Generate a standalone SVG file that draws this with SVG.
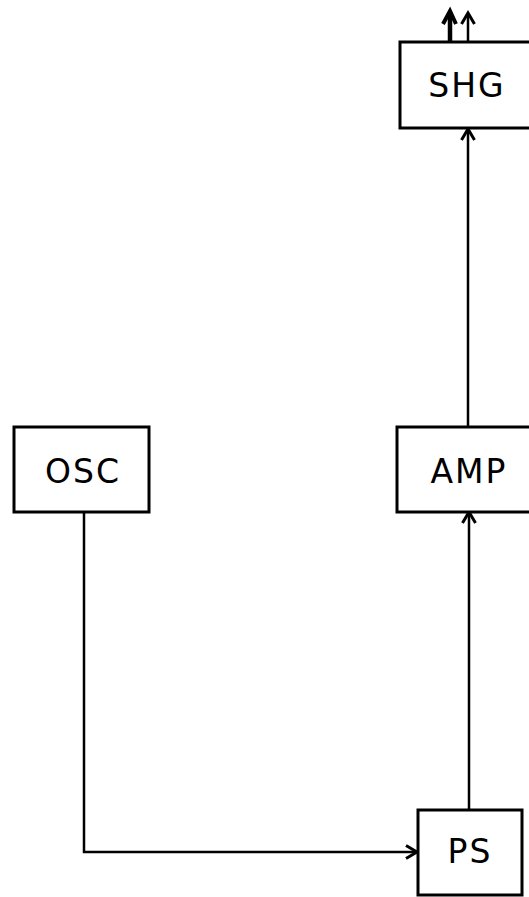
<svg xmlns="http://www.w3.org/2000/svg" width="529" height="897" viewBox="0 0 529 897">
<style>
.box{fill:#fff;stroke:#000;stroke-width:3}
.lbl{font-family:"DejaVu Sans","Liberation Sans",sans-serif;font-size:33px;fill:#000;letter-spacing:2px;text-anchor:middle}
.ln{fill:none;stroke:#000;stroke-width:2.5}
</style>
<defs>
<marker id="ah" markerWidth="16" markerHeight="16" refX="13" refY="8" orient="auto" markerUnits="userSpaceOnUse">
<path d="M2,1.5 L13,8 L2,14.5" fill="none" stroke="#000" stroke-width="3"/>
</marker>
</defs>
<g id="connectors">
<path class="ln" d="M84,512 V852 H417" marker-end="url(#ah)"/>
<path class="ln" d="M469,810 V512" marker-end="url(#ah)"/>
<path class="ln" d="M468,427 V129" marker-end="url(#ah)"/>
<path d="M450,42 V14" fill="none" stroke="#000" stroke-width="4.5"/>
<path d="M443,24 L450,11 L456,24" fill="none" stroke="#000" stroke-width="4"/>
<path class="ln" d="M468,42 V13" marker-end="url(#ah)"/>
</g>
<g id="shg"><rect class="box" x="400" y="42" width="140" height="86"/><text class="lbl" x="467" y="97">SHG</text></g>
<g id="osc"><rect class="box" x="14" y="427" width="135" height="85"/><text class="lbl" x="83" y="483">OSC</text></g>
<g id="amp"><rect class="box" x="397" y="427" width="143" height="85"/><text class="lbl" x="469" y="483">AMP</text></g>
<g id="ps"><rect class="box" x="418" y="810" width="104" height="85"/><text class="lbl" x="470" y="863">PS</text></g>
</svg>
